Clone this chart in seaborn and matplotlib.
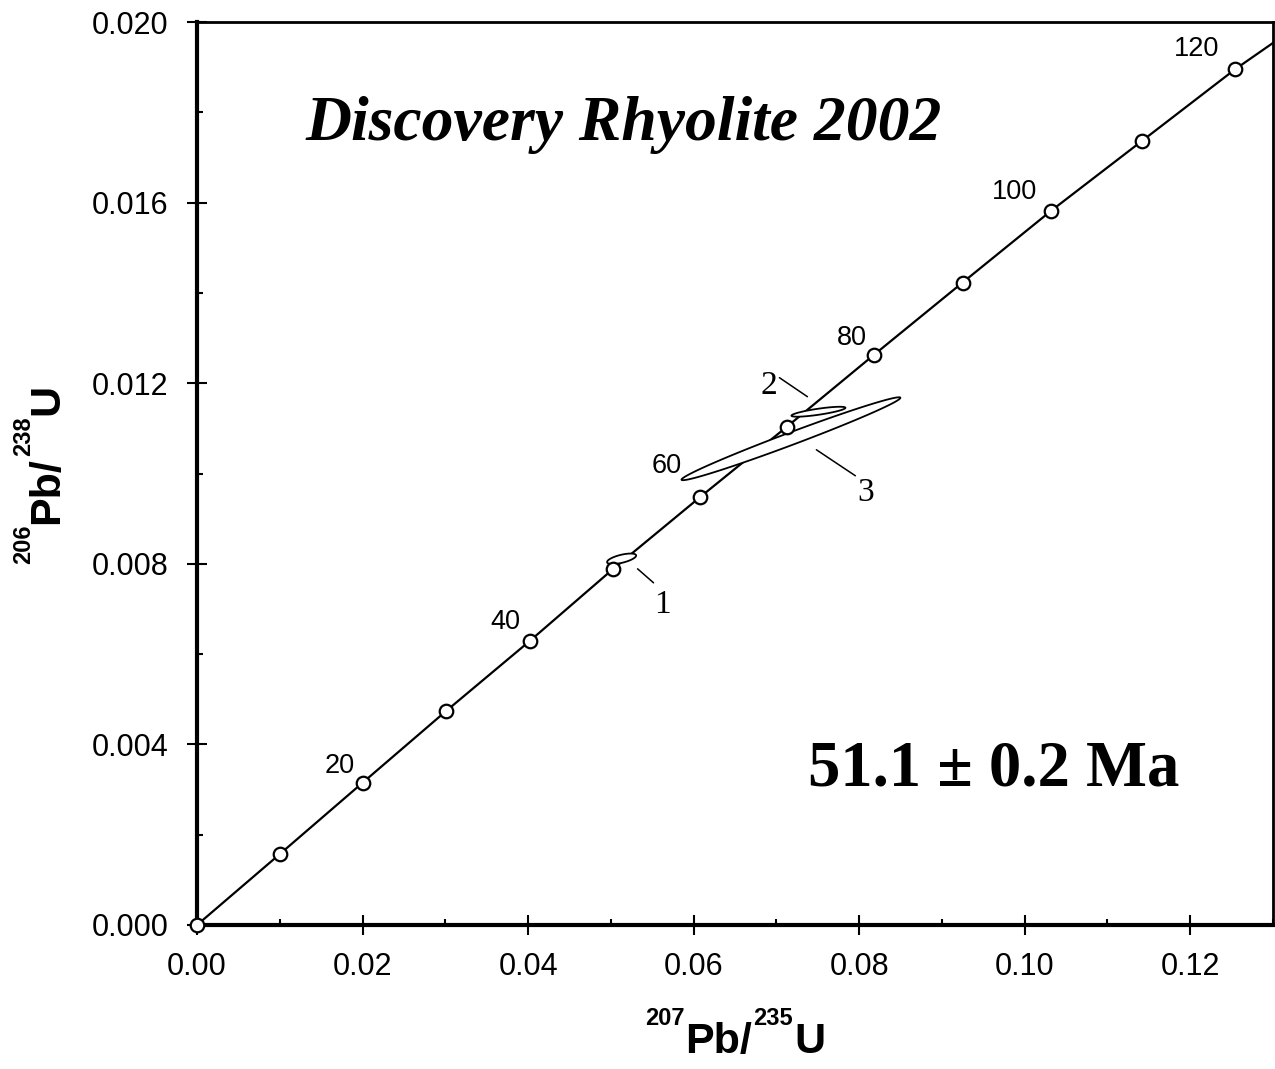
import numpy as np
import pandas as pd
import matplotlib
matplotlib.use("Agg")
import matplotlib.pyplot as plt
import seaborn as sns
from matplotlib.ticker import MultipleLocator, FormatStrFormatter
from matplotlib.transforms import IdentityTransform, Bbox

# ---------------- data ----------------
ages = [0, 10, 20, 30, 40, 50, 60, 70, 80, 90, 100, 110, 120]
conc_x = [0.0, 0.0100, 0.0200, 0.0301, 0.0402, 0.0503, 0.0608,
          0.0713, 0.0818, 0.0925, 0.1032, 0.1142, 0.1254]
conc_y = [0.0, 0.00157, 0.00315, 0.00474, 0.00629, 0.00789, 0.00948,
          0.01104, 0.01263, 0.01423, 0.01582, 0.01737, 0.01895]
curve_end_x = [0.1305]
curve_end_y = [0.01960]

label_ages = [20, 40, 60, 80, 100, 120]

ell_id = ["1", "2", "3"]
ell_x = [0.05130, 0.07508, 0.07176]
ell_y = [0.008111, 0.011368, 0.010770]
ell_sx = [0.001754, 0.003259, 0.013220]
ell_sy = [0.000116, 0.000110, 0.000918]
ell_rho = [0.62, 0.79, 0.987]

title_text = "Discovery Rhyolite 2002"
age_text = "51.1 \u00b1 0.2 Ma"
xlabel_parts = [("207", True), ("Pb/", False), ("235", True), ("U", False)]
ylabel_parts = [("206", True), ("Pb/", False), ("238", True), ("U", False)]

# ---------------- style ----------------
sns.set_style("ticks")
plt.rcParams["font.family"] = ["Liberation Sans", "DejaVu Sans"]
plt.rcParams["text.color"] = "black"
plt.rcParams["axes.labelcolor"] = "black"
plt.rcParams["xtick.color"] = "black"
plt.rcParams["ytick.color"] = "black"

fig = plt.figure(figsize=(12.75, 10.69), dpi=100)
ax = fig.add_axes([197 / 1275, 144 / 1069, 1076 / 1275, 903 / 1069])

curve = pd.DataFrame({"x": conc_x + curve_end_x, "y": conc_y + curve_end_y})
marks = pd.DataFrame({"age": ages, "x": conc_x, "y": conc_y})

sns.lineplot(data=curve, x="x", y="y", sort=False, estimator=None,
             color="black", lw=1.6, ax=ax, zorder=1)

# error ellipses
t = np.linspace(0, 2 * np.pi, 300)
for cx, cy, sx, sy, r in zip(ell_x, ell_y, ell_sx, ell_sy, ell_rho):
    cov = np.array([[sx * sx, r * sx * sy], [r * sx * sy, sy * sy]])
    L = np.linalg.cholesky(cov)
    pts = L @ np.vstack([np.cos(t), np.sin(t)])
    ax.fill(cx + pts[0], cy + pts[1], facecolor="white", edgecolor="black",
            lw=1.3, zorder=2)

sns.scatterplot(data=marks, x="x", y="y", marker="o", s=95, color="white",
                edgecolor="black", linewidth=1.6, ax=ax, zorder=4,
                clip_on=False, legend=False)

# age labels on concordia
lab_off_px = {20: (-8, 17), 40: (-9, 19), 60: (-18, 31), 80: (-7, 17),
              100: (-14, 19), 120: (-16, 20)}
for a in label_ages:
    i = ages.index(a)
    dx, dy = lab_off_px[a]
    ax.annotate(str(a), (conc_x[i], conc_y[i]), xytext=(dx * 0.72, dy * 0.72),
                textcoords="offset points", ha="right", va="center",
                fontsize=19.5, color="black", zorder=5)

# ellipse labels with leader lines
lead_from = [(0.05323, 0.007889), (0.07037, 0.012122), (0.07483, 0.010526)]
lead_to = [(0.05516, 0.007579), (0.07375, 0.011701), (0.07954, 0.009950)]
lab_pos = [(0.05625, 0.007091), (0.06904, 0.011945), (0.08075, 0.009573)]
for lid, p0, p1, lp in zip(ell_id, lead_from, lead_to, lab_pos):
    ax.plot([p0[0], p1[0]], [p0[1], p1[1]], color="black", lw=1.1, zorder=3)
    ax.text(lp[0], lp[1], lid, ha="center", va="center", fontsize=24,
            family="Liberation Serif", color="black", zorder=5)

ax.text(0.1004, 0.869, title_text, transform=ax.transAxes, ha="left",
        va="baseline", fontsize=45.8, family="Liberation Serif",
        fontweight="bold", fontstyle="italic", color="black")
ax.text(0.568, 0.154, age_text, transform=ax.transAxes, ha="left",
        va="baseline", fontsize=46.5, family="Liberation Serif",
        fontweight="bold", color="black")

# axes
ax.set_xlim(0, 0.13)
ax.set_ylim(0, 0.020)
ax.xaxis.set_major_locator(MultipleLocator(0.02))
ax.xaxis.set_minor_locator(MultipleLocator(0.01))
ax.yaxis.set_major_locator(MultipleLocator(0.004))
ax.yaxis.set_minor_locator(MultipleLocator(0.002))
ax.xaxis.set_major_formatter(FormatStrFormatter("%.2f"))
ax.yaxis.set_major_formatter(FormatStrFormatter("%.3f"))

ax.tick_params(which="major", direction="inout", length=14.5, width=1.5,
               labelsize=22, color="black", labelcolor="black")
ax.tick_params(axis="y", which="major", pad=13.5)
ax.tick_params(axis="x", which="major", pad=12.5)
ax.tick_params(which="minor", direction="in", length=4, width=1.5,
               color="black")

for side in ["left", "bottom"]:
    ax.spines[side].set_linewidth(3)
    ax.spines[side].set_color("black")
for side in ["top", "right"]:
    ax.spines[side].set_visible(True)
    ax.spines[side].set_linewidth(2)
    ax.spines[side].set_color("black")
ax.set_xlabel("")
ax.set_ylabel("")

# ---------------- axis titles with raised, small superscripts ----------------
MAIN_SIZE = 31
SUP_SIZE = 17
RAISE_PX = 0.716 * MAIN_SIZE * 100 / 72 - 3.0
GAP_PT = 0.8


def build_label(parts, baseline_px, start_px, rotation):
    arts = []
    for k, (txt, sup) in enumerate(parts):
        size = SUP_SIZE if sup else MAIN_SIZE
        if rotation == 0:
            base = baseline_px + (RAISE_PX if sup else 0)
            if k == 0:
                a = fig.text(start_px, base, txt, transform=IdentityTransform(),
                             fontsize=size, fontweight="bold", ha="left",
                             va="baseline", rotation_mode="anchor")
            else:
                a = ax.annotate(txt, xy=(1, base),
                                xycoords=(arts[-1], "figure pixels"),
                                xytext=(GAP_PT, 0), textcoords="offset points",
                                fontsize=size, fontweight="bold", ha="left",
                                va="baseline", rotation_mode="anchor",
                                annotation_clip=False)
        else:
            base = baseline_px - (RAISE_PX if sup else 0)
            if k == 0:
                a = fig.text(base, start_px, txt, transform=IdentityTransform(),
                             fontsize=size, fontweight="bold", ha="left",
                             va="baseline", rotation=90,
                             rotation_mode="anchor")
            else:
                a = ax.annotate(txt, xy=(base, 1),
                                xycoords=("figure pixels", arts[-1]),
                                xytext=(0, GAP_PT), textcoords="offset points",
                                fontsize=size, fontweight="bold", ha="left",
                                va="baseline", rotation=90,
                                rotation_mode="anchor",
                                annotation_clip=False)
        arts.append(a)
    return arts


xl = build_label(xlabel_parts, 1069 - 1053, 630, 0)
yl = build_label(ylabel_parts, 58, 1069 - 580, 90)

fig.canvas.draw()
rend = fig.canvas.get_renderer()
bx = Bbox.union([a.get_window_extent(rend) for a in xl])
shift = 735 - (bx.x0 + bx.x1) / 2
x0, y0 = xl[0].get_position()
xl[0].set_position((x0 + shift, y0))
by = Bbox.union([a.get_window_extent(rend) for a in yl])
shift = (1069 - 474) - (by.y0 + by.y1) / 2
x0, y0 = yl[0].get_position()
yl[0].set_position((x0, y0 + shift))

fig.savefig("out.png", dpi=100, facecolor="white")
